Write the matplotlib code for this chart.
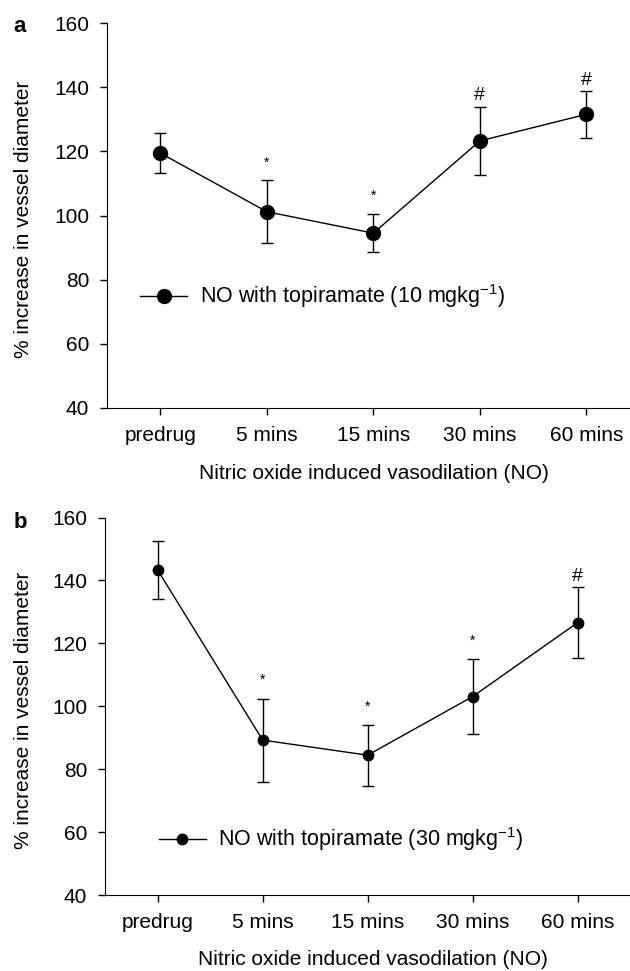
import matplotlib
matplotlib.use("Agg")
import matplotlib.pyplot as plt

plt.rcParams["font.family"] = ["Liberation Sans", "DejaVu Sans"]
plt.rcParams["mathtext.fontset"] = "custom"
plt.rcParams["mathtext.rm"] = "Liberation Sans"

# Time points
categories = ["predrug", "5 mins", "15 mins", "30 mins", "60 mins"]

# Panel a: topiramate 10 mg/kg
mean_a = [119.5, 101.2, 94.5, 123.3, 131.6]
err_a = [6.2, 9.9, 5.9, 10.7, 7.3]
marks_a = ["", "*", "*", "#", "#"]
mark_y_a = [None, 116.6, 106.2, 137.5, 142.2]

# Panel b: topiramate 30 mg/kg
mean_b = [143.3, 89.3, 84.5, 103.1, 126.6]
err_b = [9.3, 13.2, 9.7, 12.0, 11.3]
marks_b = ["", "*", "*", "*", "#"]
mark_y_b = [None, 108.5, 100.0, 120.7, 141.4]

yticks = [40, 60, 80, 100, 120, 140, 160]

FS = 15


def draw_panel(ax, means, errs, marks, mark_ys, label, msize, legend_xy,
               xlim, textpad):
    x = list(range(len(categories)))
    ax.errorbar(x, means, yerr=errs, fmt="none", ecolor="black",
                elinewidth=1, capsize=4, capthick=1, zorder=2)
    ax.plot(x, means, "-o", color="black", lw=1, markersize=msize,
            label=label, zorder=3)
    for xi, m, my in zip(x, marks, mark_ys):
        if m:
            fs = 10 if m == "*" else 14
            ax.text(xi, my, m, ha="center", va="center", fontsize=fs)
    ax.set_xlim(*xlim)
    ax.set_ylim(40, 160)
    ax.set_yticks(yticks)
    ax.set_xticks(x)
    ax.set_xticklabels(categories)
    ax.tick_params(direction="out", length=5, width=1, labelsize=FS, pad=8)
    for s in ["top", "right"]:
        ax.spines[s].set_visible(False)
    ax.set_ylabel("% increase in vessel diameter", fontsize=FS)
    ax.set_xlabel("Nitric oxide induced vasodilation (NO)", fontsize=FS)
    ax.legend(loc="center left", bbox_to_anchor=legend_xy, frameon=False,
              fontsize=15.5, handlelength=2.2, handletextpad=textpad,
              borderpad=0, borderaxespad=0)


fig = plt.figure(figsize=(6.3, 9.71), dpi=100)
ax_a = fig.add_axes([0.170, 0.580, 0.830, 0.396])
ax_b = fig.add_axes([0.167, 0.078, 0.833, 0.389])

draw_panel(ax_a, mean_a, err_a, marks_a, mark_y_a,
           r"NO with topiramate (10 mgkg$^{\mathregular{-1}}$)", 10,
           (0.063, 0.29), (-0.5, 4.41), 0.6)
draw_panel(ax_b, mean_b, err_b, marks_b, mark_y_b,
           r"NO with topiramate (30 mgkg$^{\mathregular{-1}}$)", 7.5,
           (0.102, 0.1475), (-0.5, 4.5), 0.55)

ax_a.yaxis.set_label_coords(-0.1415, 0.49)
ax_a.xaxis.set_label_coords(0.51, -0.145)
ax_b.yaxis.set_label_coords(-0.137, 0.49)
ax_b.xaxis.set_label_coords(0.51, -0.145)

fig.text(0.021, 0.973, "a", fontsize=16, fontweight="bold", va="center")
fig.text(0.021, 0.4624, "b", fontsize=16, fontweight="bold", va="center")

fig.savefig("out.png", dpi=100)
